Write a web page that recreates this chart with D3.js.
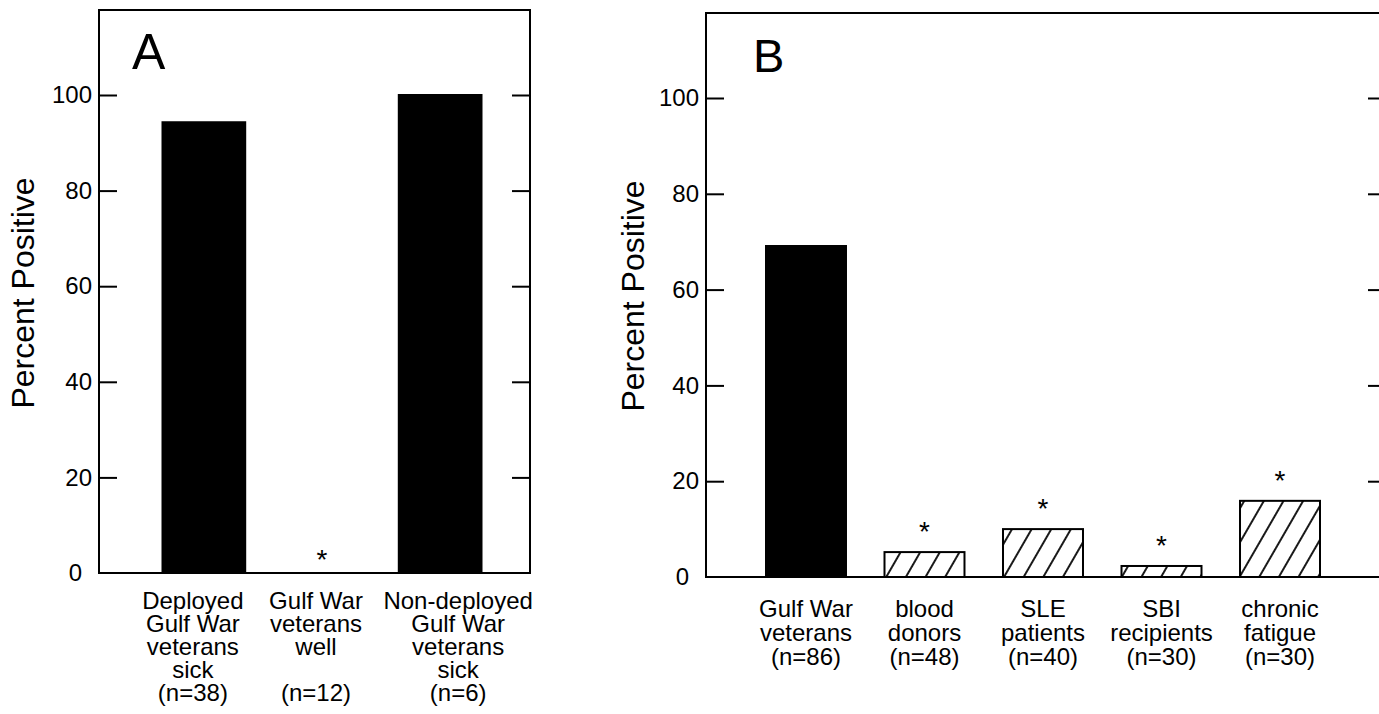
<!DOCTYPE html>
<html>
<head>
<meta charset="utf-8">
<script src="https://cdn.jsdelivr.net/npm/d3@7"></script>
<style>
  body { margin: 0; background: #fff; }
  text { font-family: "Liberation Sans", Arial, Helvetica, sans-serif; fill: #000; }
</style>
</head>
<body>
<script>
// ---- data, panel A
var groupsA = ["Deployed sick", "Gulf War well", "Non-deployed sick"];
var labelsA = [["Deployed", "Gulf War", "veterans", "sick", "(n=38)"],
               ["Gulf War", "veterans", "well", "", "(n=12)"],
               ["Non-deployed", "Gulf War", "veterans", "sick", "(n=6)"]];
var valuesA = [94.3, 0, 100];
var fillA = ["solid", "solid", "solid"];
var starA = [false, true, false];

// ---- data, panel B
var groupsB = ["Gulf War veterans", "blood donors", "SLE patients", "SBI recipients", "chronic fatigue"];
var labelsB = [["Gulf War", "veterans", "(n=86)"],
               ["blood", "donors", "(n=48)"],
               ["SLE", "patients", "(n=40)"],
               ["SBI", "recipients", "(n=30)"],
               ["chronic", "fatigue", "(n=30)"]];
var valuesB = [69.1, 5.2, 10, 2.3, 15.9];
var fillB = ["solid", "hatch", "hatch", "hatch", "hatch"];
var starB = [false, true, true, true, true];

var yTicks = [0, 20, 40, 60, 80, 100];

var W = 1379, H = 714;
var svg = d3.select("body").append("svg")
    .attr("width", W)
    .attr("height", H);

// diagonal hatch
svg.append("defs").append("pattern")
    .attr("id", "hatch")
    .attr("patternUnits", "userSpaceOnUse")
    .attr("width", 17)
    .attr("height", 17)
    .attr("patternTransform", "rotate(30)")
  .append("line")
    .attr("x1", 2).attr("y1", -2)
    .attr("x2", 2).attr("y2", 19)
    .attr("stroke", "#000")
    .attr("stroke-width", 1.8);

function drawPanel(p) {
  var g = svg.append("g");

  var y = d3.scaleLinear().domain([0, 100]).range([p.bottom, p.y100]);
  var x = d3.scaleBand()
      .domain(p.groups)
      .range([p.barLeft, p.barRight])
      .paddingInner(p.pad)
      .paddingOuter(0);
  var cx = function(i) { return x(p.groups[i]) + x.bandwidth() / 2; };

  // frame
  g.append("path")
      .attr("d", "M" + p.left + "," + p.bottom + "V" + p.top + "H" + p.right + "V" + p.bottom + "Z")
      .attr("fill", "none")
      .attr("stroke", "#000")
      .attr("stroke-width", 2);

  // ticks pointing inward
  var axL = g.append("g")
      .attr("transform", "translate(" + p.left + ",0)")
      .call(d3.axisLeft(y).tickValues(yTicks).tickSize(-18).tickPadding(7));
  var axR = g.append("g")
      .attr("transform", "translate(" + p.right + ",0)")
      .call(d3.axisRight(y).tickValues(yTicks).tickSize(-18).tickFormat(""));
  [axL, axR].forEach(function(ax) {
    ax.select(".domain").remove();
    ax.selectAll(".tick line")
        .attr("stroke", "#000")
        .attr("stroke-width", 2)
        .attr("display", function(d) { return d == 0 ? "none" : null; });
  });
  axL.selectAll(".tick text")
      .attr("font-size", 24)
      .attr("fill", "#000")
      .attr("dx", function(d) { return d == 0 ? -10 : 0; });

  var rows = p.values.map(function(v, i) { return {v: v, i: i}; });

  // bars
  g.selectAll("rect.bar")
    .data(rows)
    .enter().append("rect")
      .attr("class", "bar")
      .attr("x", function(d) { return x(p.groups[d.i]); })
      .attr("width", x.bandwidth())
      .attr("y", function(d) { return y(d.v); })
      .attr("height", function(d) { return y(0) - y(d.v); })
      .attr("fill", function(d) { return p.fills[d.i] == "hatch" ? "url(#hatch)" : "#000"; })
      .attr("stroke", "#000")
      .attr("stroke-width", 2);

  // significance marks
  g.selectAll("text.star")
    .data(rows.filter(function(d) { return p.stars[d.i]; }))
    .enter().append("text")
      .attr("class", "star")
      .attr("text-anchor", "middle")
      .attr("font-size", 28)
      .attr("x", function(d) { return cx(d.i); })
      .attr("y", function(d) { return y(d.v) - p.starGap; })
      .text("*");

  // category labels
  var lab = g.selectAll("text.cat")
    .data(p.labels)
    .enter().append("text")
      .attr("class", "cat")
      .attr("text-anchor", "middle")
      .attr("font-size", 24)
      .attr("transform", function(d, i) {
        return "translate(" + (cx(i) + p.labelShift[i]) + "," + p.labelY + ")";
      });
  lab.selectAll("tspan")
    .data(function(d) { return d; })
    .enter().append("tspan")
      .attr("x", 0)
      .attr("y", function(d, i) { return i * p.lineH; })
      .text(function(d) { return d; });

  // y title
  g.append("text")
      .attr("transform", "translate(" + p.titleX + "," + p.titleY + ")rotate(-90)")
      .attr("text-anchor", "middle")
      .attr("font-size", 32)
      .text("Percent Positive");

  // panel letter
  g.append("text")
      .attr("x", p.letterX)
      .attr("y", p.letterY)
      .attr("font-size", p.letterSize)
      .text(p.letter);
}

drawPanel({
  groups: groupsA, labels: labelsA, values: valuesA, fills: fillA, stars: starA,
  left: 99, right: 530, top: 10, bottom: 573, y100: 95,
  barLeft: 162.5, barRight: 481.5, pad: 0.3,
  starGap: 4, labelY: 609, lineH: 23, labelShift: [-11, -6, 18],
  titleX: 34, titleY: 293,
  letter: "A", letterX: 132, letterY: 69, letterSize: 50
});

drawPanel({
  groups: groupsB, labels: labelsB, values: valuesB, fills: fillB, stars: starB,
  left: 706, right: 1386, top: 13, bottom: 577, y100: 98,
  barLeft: 766, barRight: 1320, pad: 0.325,
  starGap: 11, labelY: 617, lineH: 24, labelShift: [0, 0, 0, 0, 0],
  titleX: 644, titleY: 296,
  letter: "B", letterX: 753, letterY: 72, letterSize: 47
});
</script>
</body>
</html>
